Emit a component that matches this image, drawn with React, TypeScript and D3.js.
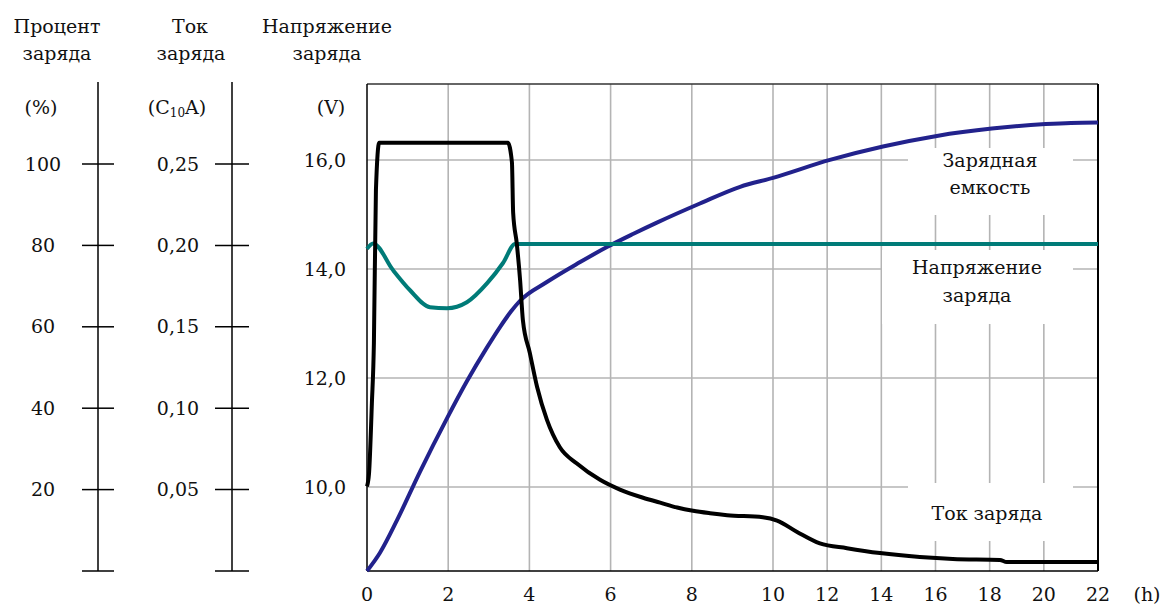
import React from 'react';
import * as d3 from 'd3';

// x axis (hours) – the scale is compressed after 10 h
const hourTicks = [0, 2, 4, 6, 8, 10, 12, 14, 16, 18, 20, 22];
const percentTicks = [0, 20, 40, 60, 80, 100];
const currentTicks = [0, 0.05, 0.1, 0.15, 0.2, 0.25];
const voltageTicks = [10, 12, 14, 16];

// charge capacity, %
const capacityHours = [0, 0.32, 0.74, 1.31, 1.97, 2.46, 2.96, 3.28, 3.55, 3.77, 4.43, 5.25, 5.91, 6.55, 7.14, 8.2, 9.19, 10, 12.1, 14.06, 16.05, 18.08, 20.07, 21, 22];
const capacityPercent = [0, 4.5, 12.5, 24.5, 37.5, 46.6, 55.0, 60.0, 63.8, 66.4, 71.0, 75.9, 79.6, 82.8, 85.6, 90.3, 94.4, 96.6, 101.0, 104.3, 106.9, 108.7, 109.8, 110.1, 110.2];

// charge voltage, V
const voltageHours = [0, 0.15, 0.64, 1.06, 1.55, 1.97, 2.46, 2.96, 3.35, 3.65, 22];
const voltageValues = [14.37, 14.47, 13.98, 13.61, 13.3, 13.28, 13.39, 13.74, 14.11, 14.46, 14.46];

// charge current, C10 A
const currentHours = [0, 0.05, 0.12, 0.17, 0.22, 0.3, 3.47, 3.57, 3.6, 3.69, 3.77, 3.84, 4.01, 4.19, 4.43, 4.75, 5.17, 5.74, 6.23, 6.8, 7.22, 7.64, 8.03, 8.45, 8.87, 9.75, 10.15, 10.89, 11.73, 12.73, 13.95, 15.42, 16.64, 18.38, 18.63, 22];
const currentValues = [0.052, 0.06, 0.103, 0.14, 0.234, 0.263, 0.263, 0.251, 0.22, 0.201, 0.179, 0.154, 0.134, 0.113, 0.093, 0.076, 0.066, 0.056, 0.05, 0.045, 0.042, 0.039, 0.037, 0.0355, 0.0343, 0.033, 0.031, 0.024, 0.017, 0.014, 0.011, 0.0086, 0.0074, 0.0068, 0.0055, 0.0055];

const comma = (f: string) => (v: number) => d3.format(f)(v).replace('.', ',');

export default function App() {
  const left = 367, right = 1098, top = 84, bottom = 571;

  const x = d3.scaleLinear().domain([0, 10, 22]).range([left, 773, right]);
  const yPct = d3.scaleLinear().domain([0, 100]).range([bottom, 164]);
  const yCur = d3.scaleLinear().domain([0, 0.25]).range([bottom, 164]);
  const yVolt = d3.scaleLinear().domain([10, 16]).range([487, 160]);

  const mk = (ys: d3.ScaleLinear<number, number>) =>
    d3.line<[number, number]>()
      .x((d) => x(d[0]))
      .y((d) => ys(d[1]))
      .curve(d3.curveMonotoneX);

  const capPath = mk(yPct)(capacityHours.map((h, i) => [h, capacityPercent[i]]));
  const voltPath = mk(yVolt)(voltageHours.map((h, i) => [h, voltageValues[i]]));
  const curPath = mk(yCur)(currentHours.map((h, i) => [h, currentValues[i]]));

  const pctX = 98, curX = 232;
  const fnt = { fontFamily: 'DejaVu Serif, serif', fontSize: 19 };

  return (
    <svg width={1162} height={605} style={{ position: 'absolute', left: 0, top: 0, background: '#fff' }}>
      {/* headers */}
      <g style={fnt} fill="#111" textAnchor="middle">
        <text x={57} y={33}>Процент</text>
        <text x={57} y={60}>заряда</text>
        <text x={190} y={33}>Ток</text>
        <text x={191} y={60}>заряда</text>
        <text x={327} y={33}>Напряжение</text>
        <text x={327} y={60}>заряда</text>
        <text x={41} y={114}>(%)</text>
        <text x={177} y={114}>(C<tspan fontSize={12} dy={3}>10</tspan><tspan dy={-3}>A)</tspan></text>
        <text x={331} y={114}>(V)</text>
      </g>

      {/* percent axis */}
      <line x1={pctX} x2={pctX} y1={82} y2={bottom} stroke="#000" strokeWidth={1.5} />
      {percentTicks.map((t) => (
        <g key={'p' + t}>
          <line x1={pctX - 16} x2={pctX + 16} y1={yPct(t)} y2={yPct(t)} stroke="#000" strokeWidth={1.5} />
          {t > 0 && (
            <text style={fnt} fill="#111" x={43} y={yPct(t)} dy="0.35em" textAnchor="middle">{t}</text>
          )}
        </g>
      ))}

      {/* current axis */}
      <line x1={curX} x2={curX} y1={82} y2={bottom} stroke="#000" strokeWidth={1.5} />
      {currentTicks.map((t) => (
        <g key={'c' + t}>
          <line x1={curX - 17} x2={curX + 17} y1={yCur(t)} y2={yCur(t)} stroke="#000" strokeWidth={1.5} />
          {t > 0 && (
            <text style={fnt} fill="#111" x={178} y={yCur(t)} dy="0.35em" textAnchor="middle">{comma('.2f')(t)}</text>
          )}
        </g>
      ))}

      {/* voltage labels */}
      {voltageTicks.map((t) => (
        <text key={'v' + t} style={fnt} fill="#111" x={346} y={yVolt(t)} dy="0.35em" textAnchor="end">{comma('.1f')(t)}</text>
      ))}

      {/* grid */}
      <g stroke="#b4b4b4" strokeWidth={1.6}>
        {hourTicks.slice(1, -1).map((h) => (
          <line key={'gx' + h} x1={x(h)} x2={x(h)} y1={top} y2={bottom} />
        ))}
        {voltageTicks.map((v) => (
          <line key={'gy' + v} x1={left} x2={right} y1={yVolt(v)} y2={yVolt(v)} />
        ))}
      </g>

      {/* label backgrounds */}
      <g fill="#fff">
        <rect x={908} y={148} width={165} height={67} />
        <rect x={882} y={250} width={191} height={74} />
        <rect x={908} y={483} width={165} height={58} />
      </g>
      <g style={fnt} fill="#111" textAnchor="middle">
        <text x={990} y={160} dy="0.35em">Зарядная</text>
        <text x={990} y={187} dy="0.35em">емкость</text>
        <text x={977} y={267} dy="0.35em">Напряжение</text>
        <text x={977} y={295} dy="0.35em">заряда</text>
        <text x={987} y={513} dy="0.35em">Ток заряда</text>
      </g>

      {/* frame */}
      <line x1={left} x2={right} y1={top} y2={top} stroke="#333" strokeWidth={1.5} />
      <line x1={left} x2={left} y1={top} y2={bottom} stroke="#000" strokeWidth={1.5} />
      <line x1={right} x2={right} y1={top} y2={bottom} stroke="#000" strokeWidth={2} />
      <line x1={left} x2={right} y1={bottom} y2={bottom} stroke="#000" strokeWidth={1.5} />

      {/* curves */}
      <path d={capPath ?? ''} fill="none" stroke="#22228c" strokeWidth={4} />
      <path d={voltPath ?? ''} fill="none" stroke="#007b78" strokeWidth={4} />
      <path d={curPath ?? ''} fill="none" stroke="#000" strokeWidth={4} />

      {/* x axis labels */}
      {hourTicks.map((h) => (
        <text key={'xl' + h} style={fnt} fill="#111" x={x(h)} y={601} textAnchor="middle">{h}</text>
      ))}
      <text style={fnt} fill="#111" x={1147} y={601} textAnchor="middle">(h)</text>
    </svg>
  );
}
